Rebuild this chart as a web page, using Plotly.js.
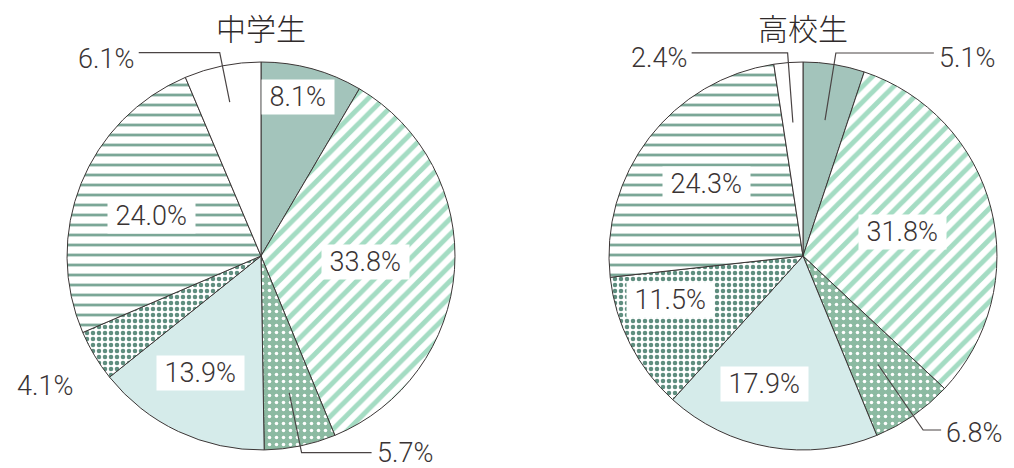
<!DOCTYPE html>
<html><head><meta charset="utf-8">
<script src="https://cdn.plot.ly/plotly-3.0.1.min.js"></script>
<style>html,body{margin:0;padding:0;background:#fff}</style></head>
<body>
<div id="chart" style="width:1014px;height:468px"></div>
<script>
// ---- data ----
const categories = ['区分1','区分2','区分3','区分4','区分5','区分6','区分7'];
const pieTitles = ['中学生','高校生'];
const juniorValues = [8.1, 33.8, 5.7, 13.9, 4.1, 24.0, 6.1];
const seniorValues = [5.1, 31.8, 6.8, 17.9, 11.5, 24.3, 2.4];

// ---- styles ----
const sliceColors   = ['#a3c4bb','#ffffff','#8cbaa2','#d5ebea','#ffffff','#ffffff','#ffffff'];
const patternShapes = ['','/','.','','.','-',''];
const patternFg     = ['#a3c4bb','#a4dcc3','#ffffff','#d5ebea','#5f8e7f','#7ba797','#ffffff'];
const patternBg     = ['#a3c4bb','#ffffff','#8cbaa2','#d5ebea','#ffffff','#ffffff','#ffffff'];
const patternSize   = [8, 11, 7, 8, 6, 10, 8];
const patternSolid  = [0.3, 0.45, 0.2, 0.3, 0.45, 0.28, 0.3];

// label placement (r = fraction of radius, da = angle shift in degrees, h = leader horizontal length px, dy = text offset px)
const juniorPlacement = [
  {kind:'in', r:0.84, da:-2},
  {kind:'in', r:0.54, da:-1},
  {kind:'out', r0:0.72, r1:1.035, h:70, dy:0},
  {kind:'in', r:0.68, da:2},
  {kind:'free', r:1.3, da:0},
  {kind:'in', r:0.6, da:-2},
  {kind:'out', r0:0.81, r1:1.07, h:-81, dy:6}
];
const seniorPlacement = [
  {kind:'out', r0:0.71, r1:1.06, h:98, dy:5},
  {kind:'in', r:0.53, da:0.6},
  {kind:'out', r0:0.68, r1:1.09, h:18, dy:3},
  {kind:'in', r:0.69, da:7},
  {kind:'in', r:0.72, da:8.7},
  {kind:'in', r:0.62, da:-1},
  {kind:'out', r0:0.69, r1:1.05, h:-96, dy:5}
];

const W = 1014, H = 468;
const domains = [
  {x:[0.0661, 0.4487], y:[0.0385, 0.8675]},
  {x:[0.6006, 0.9832], y:[0.0385, 0.8675]}
];
const labelFont = {family:'Roboto, "Liberation Sans", sans-serif', size:27, color:'#3a3434', weight:300};
const lineColor = '#4a4444';

const seriesList = [juniorValues, seniorValues];
const placements = [juniorPlacement, seniorPlacement];

const traces = [];
const annotations = [];
const shapes = [];

seriesList.forEach((vals, k) => {
  const dom = domains[k];
  traces.push({
    type:'pie', labels:categories, values:vals, sort:false, direction:'clockwise', rotation:0,
    domain:dom, textinfo:'none', hoverinfo:'label+value',
    marker:{
      colors:sliceColors,
      line:{color:'#3c3636', width:1},
      pattern:{shape:patternShapes, fgcolor:patternFg, bgcolor:patternBg, size:patternSize, solidity:patternSolid, fillmode:'replace'}
    },
    showlegend:false
  });
  const cx = (dom.x[0]+dom.x[1])/2*W;
  const cy = (1-(dom.y[0]+dom.y[1])/2)*H;
  const R = Math.min((dom.x[1]-dom.x[0])*W, (dom.y[1]-dom.y[0])*H)/2;
  const total = vals.reduce((a,b)=>a+b,0);
  const px = (x)=>x/W, py = (y)=>1-y/H;
  const pt = (deg, r)=>{const t=deg*Math.PI/180; return [cx + r*R*Math.sin(t), cy - r*R*Math.cos(t)];};
  let cum = 0;
  vals.forEach((v,i)=>{
    const mid = (cum + v/2)/total*360;
    cum += v;
    const pl = placements[k][i];
    const txt = v.toFixed(1)+'%';
    if (pl.kind==='in') {
      const [x,y] = pt(mid+pl.da, pl.r);
      annotations.push({xref:'paper',yref:'paper',x:px(x),y:py(y),xanchor:'center',yanchor:'middle',
        text:'\u00a0'+txt+'\u00a0', showarrow:false, font:labelFont, bgcolor:'#ffffff', borderpad:1});
    } else if (pl.kind==='free') {
      const [x,y] = pt(mid+pl.da, pl.r);
      annotations.push({xref:'paper',yref:'paper',x:px(x),y:py(y),xanchor:'center',yanchor:'middle',
        text:txt, showarrow:false, font:labelFont});
    } else {
      const [x0,y0] = pt(mid, pl.r0);
      const [x1,y1] = pt(mid, pl.r1);
      const x2 = x1 + pl.h;
      shapes.push({type:'path', xref:'paper', yref:'paper',
        path:`M ${px(x0)},${py(y0)} L ${px(x1)},${py(y1)} L ${px(x2)},${py(y1)}`,
        line:{color:lineColor, width:1.2}});
      annotations.push({xref:'paper',yref:'paper',x:px(x2 + (pl.h>0?3:-3)),y:py(y1+pl.dy),
        xanchor:pl.h>0?'left':'right', yanchor:'middle', text:txt, showarrow:false, font:labelFont});
    }
  });
  annotations.push({xref:'paper',yref:'paper',x:px(cx),y:py(27),xanchor:'center',yanchor:'middle',
    text:pieTitles[k], showarrow:false,
    font:{family:'"Noto Sans CJK JP", "Noto Sans CJK SC", sans-serif', size:30, color:'#2f2a2a', weight:300}});
});

Plotly.newPlot('chart', traces, {
  width:W, height:H, margin:{l:0,r:0,t:0,b:0},
  paper_bgcolor:'#ffffff', plot_bgcolor:'#ffffff',
  annotations:annotations, shapes:shapes, showlegend:false
}, {displayModeBar:false, staticPlot:true});
</script>
</body></html>
